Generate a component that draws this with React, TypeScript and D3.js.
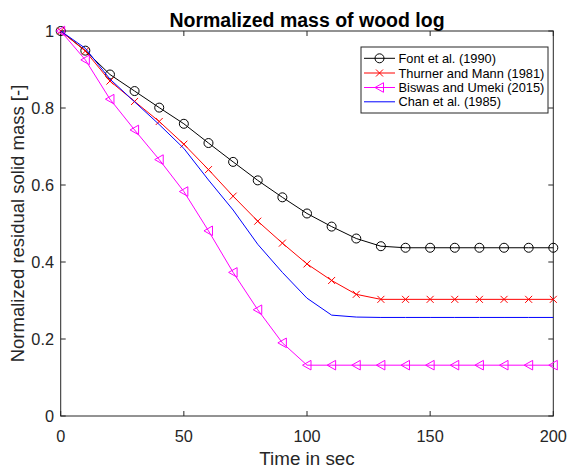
import React from "react";
import * as d3 from "d3";

const times = [0, 10, 20, 30, 40, 50, 60, 70, 80, 90, 100, 110, 120, 130, 140, 150, 160, 170, 180, 190, 200];
const font1990 = [1, 0.949, 0.887, 0.844, 0.801, 0.759, 0.709, 0.660, 0.612, 0.568, 0.526, 0.492, 0.461, 0.441, 0.437, 0.437, 0.437, 0.437, 0.437, 0.437, 0.437];
const thurner1981 = [1, 0.948, 0.870, 0.817, 0.765, 0.706, 0.640, 0.571, 0.506, 0.449, 0.395, 0.352, 0.316, 0.303, 0.303, 0.303, 0.303, 0.303, 0.303, 0.303, 0.303];
const biswas2015 = [1, 0.925, 0.823, 0.743, 0.666, 0.583, 0.481, 0.373, 0.276, 0.190, 0.132, 0.132, 0.132, 0.132, 0.132, 0.132, 0.132, 0.132, 0.132, 0.132, 0.132];
const chan1985 = [1, 0.955, 0.875, 0.816, 0.757, 0.695, 0.613, 0.535, 0.446, 0.373, 0.306, 0.262, 0.257, 0.256, 0.256, 0.256, 0.256, 0.256, 0.256, 0.256, 0.256];
const xTicks = [0, 50, 100, 150, 200];
const yTicks = [0, 0.2, 0.4, 0.6, 0.8, 1];
const seriesNames = ["Font et al. (1990)", "Thurner and Mann (1981)", "Biswas and Umeki (2015)", "Chan et al. (1985)"];
const title = "Normalized mass of wood log";
const xLabel = "Time in sec";
const yLabel = "Normalized residual solid mass [-]";

const W = 569, H = 469;
const L = 60.7, R = 553.3, T = 31, B = 416;
const AX = "#262626";
const FONT = "'Liberation Sans', Arial, sans-serif";

type Marker = "o" | "x" | "<" | "none";
const series: { name: string; values: number[]; color: string; marker: Marker }[] = [
  { name: seriesNames[0], values: font1990, color: "#000000", marker: "o" },
  { name: seriesNames[1], values: thurner1981, color: "#ff0000", marker: "x" },
  { name: seriesNames[2], values: biswas2015, color: "#ff00ff", marker: "<" },
  { name: seriesNames[3], values: chan1985, color: "#0000ff", marker: "none" },
];

function MarkerShape({ m, x, y, color }: { m: Marker; x: number; y: number; color: string }) {
  if (m === "o") return <circle cx={x} cy={y} r={4.5} fill="none" stroke={color} strokeWidth={1} />;
  if (m === "x")
    return (
      <path d={`M${x - 3.5},${y - 3.5}L${x + 3.5},${y + 3.5}M${x - 3.5},${y + 3.5}L${x + 3.5},${y - 3.5}`} stroke={color} strokeWidth={1} fill="none" />
    );
  if (m === "<")
    return <path d={`M${x - 4.5},${y}L${x + 4},${y - 4.8}L${x + 4},${y + 4.8}Z`} fill="none" stroke={color} strokeWidth={1} />;
  return null;
}

export default function App() {
  const x = d3.scaleLinear().domain([0, 200]).range([L, R]);
  const y = d3.scaleLinear().domain([0, 1]).range([B, T]);
  const line = d3.line<number>().x((_, i) => x(times[i])).y((d) => y(d));
  const fmt = (v: number) => (v === 0 || v === 1 ? String(v) : d3.format(".1f")(v));
  const legX = 361, legY = 47, legW = 187, legH = 66;
  const rowY = [58.3, 73.0, 87.5, 101.8];
  return (
    <svg width={W} height={H} style={{ position: "absolute", left: 0, top: 0, background: "#fff" }} fontFamily={FONT}>
      <rect x={0} y={0} width={W} height={H} fill="#fff" />
      {/* axes box */}
      <rect x={L} y={T} width={R - L} height={B - T} fill="none" stroke={AX} strokeWidth={1} />
      {xTicks.map((t) => (
        <g key={"xt" + t}>
          <line x1={x(t)} x2={x(t)} y1={B} y2={B - 5} stroke={AX} />
          <line x1={x(t)} x2={x(t)} y1={T} y2={T + 5} stroke={AX} />
          <text x={x(t)} y={441.5} textAnchor="middle" fontSize={16.3} fill={AX}>{t}</text>
        </g>
      ))}
      {yTicks.map((t) => (
        <g key={"yt" + t}>
          <line x1={L} x2={L + 5} y1={y(t)} y2={y(t)} stroke={AX} />
          <line x1={R} x2={R - 5} y1={y(t)} y2={y(t)} stroke={AX} />
          <text x={54} y={y(t)} dy="0.35em" textAnchor="end" fontSize={16.3} fill={AX}>{fmt(t)}</text>
        </g>
      ))}
      <text x={(L + R) / 2} y={465} textAnchor="middle" fontSize={18.8} fill={AX}>{xLabel}</text>
      <text transform={`translate(24,${(T + B) / 2}) rotate(-90)`} textAnchor="middle" fontSize={18.5} fill={AX}>{yLabel}</text>
      <text x={(L + R) / 2} y={26.5} textAnchor="middle" fontSize={19.5} fontWeight="bold" fill="#000">{title}</text>
      {/* series */}
      {series.map((s) => (
        <g key={s.name}>
          <path d={line(s.values) || ""} fill="none" stroke={s.color} strokeWidth={1} />
          {s.values.map((v, i) => (
            <MarkerShape key={i} m={s.marker} x={x(times[i])} y={y(v)} color={s.color} />
          ))}
        </g>
      ))}
      {/* legend */}
      <rect x={legX} y={legY} width={legW} height={legH} fill="#fff" stroke={AX} strokeWidth={1} />
      {series.map((s, i) => (
        <g key={"lg" + i}>
          <line x1={364} x2={395} y1={rowY[i]} y2={rowY[i]} stroke={s.color} strokeWidth={1} />
          <MarkerShape m={s.marker} x={379.5} y={rowY[i]} color={s.color} />
          <text x={398.5} y={rowY[i]} dy="0.36em" fontSize={12.8} fill="#000">{s.name}</text>
        </g>
      ))}
    </svg>
  );
}
